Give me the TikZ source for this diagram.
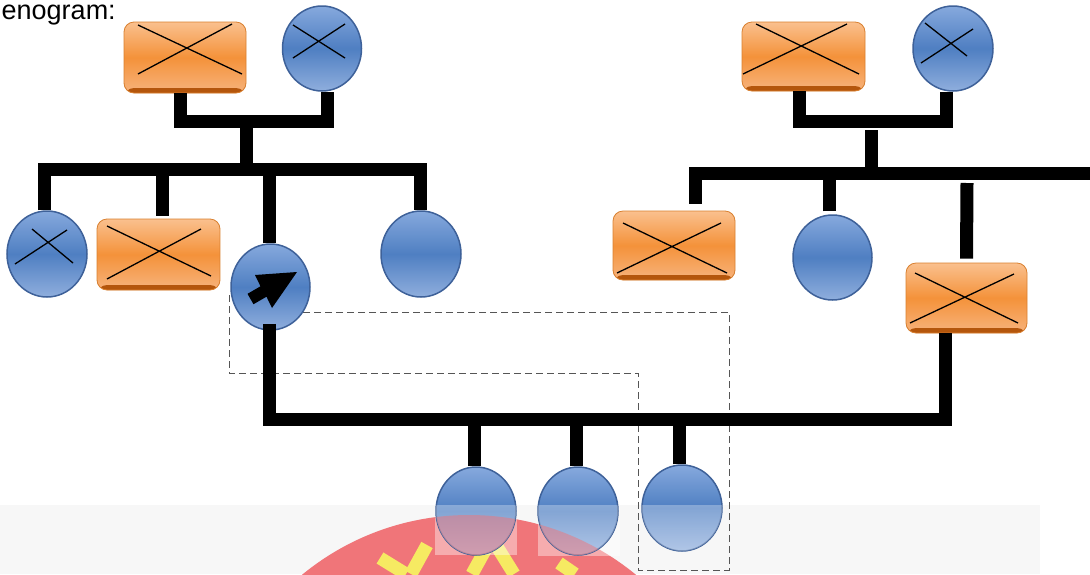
\documentclass[tikz,border=0pt]{standalone}
\usepackage{fontspec}
\setmainfont{Liberation Sans}
\usetikzlibrary{shapes.geometric,calc}

\definecolor{bluetop}{HTML}{86A9DD}
\definecolor{bluemid}{HTML}{4F7FC2}
\definecolor{bluebot}{HTML}{8FAEDD}
\definecolor{blueedge}{HTML}{3E6199}
\definecolor{ortop}{HTML}{FAC08E}
\definecolor{ormid}{HTML}{F4923A}
\definecolor{orbot}{HTML}{F7B37C}
\definecolor{oredge}{HTML}{D98030}
\definecolor{orbrown}{HTML}{B4560C}
\definecolor{dashgray}{HTML}{555555}
\definecolor{bandgray}{HTML}{F7F7F7}
\definecolor{wmred}{HTML}{F07579}
\definecolor{wmyellow}{HTML}{F6EA62}

\tikzset{
  fem/.style={ellipse, inner sep=0pt, draw=blueedge, line width=1.5pt,
    top color=bluetop, bottom color=bluebot, middle color=bluemid},
  mal/.style={rectangle, rounded corners=10pt, inner sep=0pt, draw=oredge, line width=0.8pt,
    top color=ortop, bottom color=orbot, middle color=ormid,
    path picture={\fill[orbrown] ([yshift=5pt]path picture bounding box.south west) rectangle (path picture bounding box.south east);}},
  link/.style={line width=13pt, line join=miter, line cap=butt, black},
  xline/.style={line width=1.3pt, black},
  dashbox/.style={draw=dashgray, line width=1pt, dash pattern=on 7pt off 4pt},
  ystroke/.style={line width=13pt, wmyellow, line cap=butt},
}

\newcommand{\gxcross}[5]{\draw[xline] ($(#1)+(#2)$) -- ($(#1)+(#3)$) ($(#1)+(#4)$) -- ($(#1)+(#5)$);}

\begin{document}
\begin{tikzpicture}[x=1pt,y=-1pt]
\useasboundingbox (0,0) rectangle (1090,574);
\fill[white] (0,0) rectangle (1090,574);

% watermark background
\fill[bandgray] (0,505) rectangle (1040,574);
\begin{scope}
  \clip (0,505) rectangle (1040,574);
  \fill[wmred] (469,778) circle [radius=263pt];
  \draw[ystroke] (380,558) -- (406,574);
  \draw[ystroke] (427,545) -- (411,574);
  \draw[ystroke] (488,545) -- (472,574);
  \draw[ystroke] (496,545) -- (514,574);
  \draw[ystroke] (559,563) -- (575,574);
\end{scope}
% image boxes of the first two children
\fill[white, opacity=0.4] (435,505) rectangle (517,555);
\fill[white, opacity=0.4] (538,505) rectangle (620,556);

% title
\node[anchor=base west, inner sep=0pt, text height=15pt, text depth=5pt,
      font=\fontsize{27}{32}\selectfont] (title) at (1.5,19) {enogram:};

% dashed outline (behind the persons)
\coordinate (dR) at (729,312);
\draw[dashbox] (229,295) -- (229,373) -- (638,373) -- (638,570) -- (729,570) -- (dR) -- (270,312);

% ---- persons ----
% left grandparents
\node[mal, minimum width=122pt, minimum height=71pt] (gfL) at (185,57.5) {};
\node[fem, minimum width=79pt, minimum height=85pt] (gmL) at (322,48.5) {};
% left siblings
\node[fem, minimum width=80pt, minimum height=86pt] (s1) at (47,254) {};
\node[mal, minimum width=123pt, minimum height=71pt] (s2) at (158.5,254.5) {};
\node[fem, minimum width=79pt, minimum height=86pt] (ego) at (270.5,287) {};
\node[fem, minimum width=80pt, minimum height=86pt] (s4) at (421,254) {};
% right grandparents
\node[mal, minimum width=123pt, minimum height=69pt] (gfR) at (803.5,56.5) {};
\node[fem, minimum width=80pt, minimum height=85pt] (gmR) at (953,48.5) {};
% right siblings
\node[mal, minimum width=122pt, minimum height=69pt] (r1) at (674,245.5) {};
\node[fem, minimum width=79pt, minimum height=85pt] (r2) at (832.5,257.5) {};
\node[mal, minimum width=121pt, minimum height=70pt] (sp) at (966.5,298) {};
% children
\node[fem, minimum width=80pt, minimum height=88pt] (c1) at (476,511) {};
\node[fem, minimum width=80pt, minimum height=88pt] (c2) at (578,511) {};
\node[fem, minimum width=80pt, minimum height=86pt] (c3) at (682,508) {};

% watermark tint over the children
\begin{scope}
  \clip (c1.center) ellipse [x radius=40pt, y radius=44pt];
  \fill[white, opacity=0.3] (0,505) rectangle (1040,574);
  \fill[wmred, opacity=0.5] (469,778) circle [radius=263pt];
\end{scope}
\begin{scope}
  \clip (c2.center) ellipse [x radius=40pt, y radius=44pt];
  \fill[white, opacity=0.3] (0,505) rectangle (1040,574);
  \fill[wmred, opacity=0.5] (469,778) circle [radius=263pt];
\end{scope}
\begin{scope}
  \clip (c3.center) ellipse [x radius=40pt, y radius=43pt];
  \fill[white, opacity=0.3] (0,505) rectangle (1040,574);
\end{scope}

% crosses (deceased)
\gxcross{gfL}{-47,-32.5}{57,16.5}{-47,16.5}{47,-33.5}
\gxcross{gmL}{-29,-23.5}{23,9.5}{-29,9.5}{23,-24.5}
\gxcross{s1}{-15,-25}{26,9}{-32,10}{20,-24}
\gxcross{s2}{-51.5,-28.5}{52.5,21.5}{-51.5,24.5}{42.5,-25.5}
\gxcross{gfR}{-47.5,-32.5}{55.5,17.5}{-60.5,17.5}{43.5,-32.5}
\gxcross{gmR}{-28,-25.5}{14,7.5}{-32,14.5}{20,-19.5}
\gxcross{r1}{-51,-22.5}{53,27.5}{-57,27.5}{47,-22.5}
\gxcross{sp}{-51.5,-25}{51.5,25}{-56.5,25}{47.5,-24}

% arrow on the index person
\fill[black] ($(ego)+(-23,6.8)$) -- ($(ego)+(-10,-0.7)$) -- ($(ego)+(-15.5,-12)$) -- ($(ego)+(26.5,-15)$)
  -- ($(ego)+(1.5,21)$) -- ($(ego)+(-4,9.7)$) -- ($(ego)+(-17,17.2)$) -- cycle;

% ---- connectors ----
\coordinate (jL) at (246,121);
\coordinate (bL) at (246,169.5);
\draw[link] ([xshift=-5pt]gfL.south) |- (jL) -| ([xshift=5pt]gmL.south);
\draw[link] (jL) -- (bL);
\draw[link] ([xshift=-3pt]s1.north) |- (bL) -| ([xshift=-1pt]s4.north);
\draw[link] ([xshift=3.5pt,yshift=3pt]s2.north) |- (bL);
\draw[link] ([xshift=-1.5pt]ego.north) |- (bL);

\coordinate (bB) at (600,419);
\draw[link] ([xshift=-1pt,yshift=7pt]ego.south) |- (bB) -| ([xshift=-21.5pt]sp.south);
\draw[link] ([xshift=-2pt]c1.north) |- (bB);
\draw[link] ([xshift=-2pt]c2.north) |- (bB);
\draw[link] ([xshift=-3pt]c3.north) |- (bB);

\coordinate (jR) at (871,121);
\coordinate (stemTop) at (871,130);
\coordinate (bR) at (871,173);
\coordinate (bRend) at (1090,173);
\coordinate (spTop) at (967,183);
\draw[link] ([xshift=-4.5pt]gfR.south) |- (jR) -| ([xshift=-7pt]gmR.south);
\draw[link] (stemTop) -- (bR);
\draw[link] ([xshift=21pt,yshift=7pt]r1.north) |- (bRend);
\draw[link] ([xshift=-3.5pt,yshift=3pt]r2.north) |- (bR);
\draw[link] ([yshift=4pt]sp.north) -- (spTop);
\end{tikzpicture}
\end{document}
